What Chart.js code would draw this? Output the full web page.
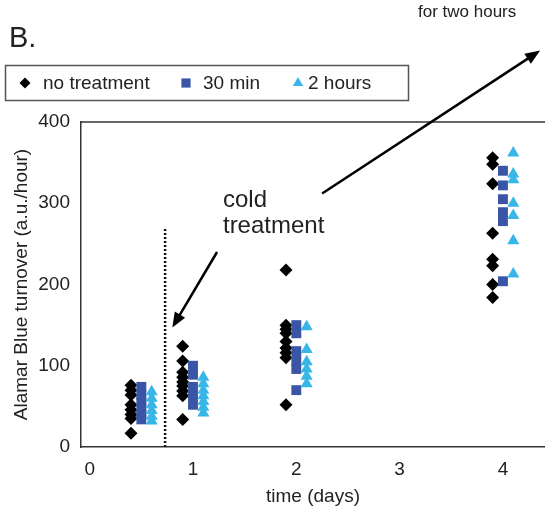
<!DOCTYPE html>
<html><head><meta charset="utf-8">
<script src="https://cdn.jsdelivr.net/npm/chart.js@4/dist/chart.umd.min.js"></script>
<style>html,body{margin:0;padding:0;background:#fff}#wrap{width:545px;height:512px;position:relative}</style>
</head><body><div id="wrap"><canvas id="c" width="545" height="512"></canvas></div>
<script>
// ---- data ----
const seriesNames = ['no treatment', '30 min', '2 hours'];
const days = [0.5, 1, 2, 4];
const noTreatment = [
  [76, 70, 64, 52, 46, 40, 35, 17],
  [124, 106, 92, 86, 80, 75, 69, 63, 34],
  [218, 150, 145, 140, 130, 122, 116, 110, 52],
  [356, 348, 324, 263, 231, 223, 200, 184]
];
const min30 = [
  [74, 64, 56, 48, 40, 34],
  [100, 89, 74, 63, 52],
  [150, 140, 118, 106, 96, 70],
  [340, 322, 305, 289, 278, 204]
];
const hours2 = [
  [68, 60, 52, 45, 38, 32],
  [86, 78, 70, 63, 56, 49, 42],
  [148, 120, 105, 96, 87, 78],
  [362, 336, 329, 300, 285, 254, 213]
];
const xTicks = [0, 1, 2, 3, 4];
const yTicks = [0, 100, 200, 300, 400];
const coldTreatmentDay = 0.73;
const coldLineTop = 270;

// ---- styling / layout ----
const FONT = "'Liberation Sans', Arial, sans-serif";
const TXT = '#222';
const colors = ['#000000', '#3A55A5', '#38B6E8'];
const styles = ['rectRot', 'rect', 'triangle'];
const radii = [6.5, 7, 7];
const offsets = [-0.1, 0, 0.1];
const groups = [noTreatment, min30, hours2];

function pts(vals, off) {
  const out = [];
  days.forEach((d, i) => vals[i].forEach(v => out.push({x: d + off, y: v})));
  return out;
}

const datasets = groups.map((g, k) => ({
  type: 'scatter',
  label: seriesNames[k],
  data: pts(g, offsets[k]),
  pointStyle: styles[k],
  pointRadius: radii[k],
  pointHoverRadius: radii[k],
  backgroundColor: colors[k],
  borderColor: colors[k],
  borderWidth: 0,
  order: 2 - k
}));
datasets.push({
  type: 'line',
  label: 'cold',
  data: [{x: coldTreatmentDay, y: 0}, {x: coldTreatmentDay, y: coldLineTop}],
  borderColor: '#111',
  borderWidth: 2.5,
  borderDash: [2, 2],
  pointRadius: 0,
  order: 5
});

function arrow(ctx, x1, y1, x2, y2) {
  const a = Math.atan2(y2 - y1, x2 - x1);
  const L = 15, W = 6;
  ctx.save();
  ctx.strokeStyle = '#000'; ctx.fillStyle = '#000'; ctx.lineWidth = 2.5;
  ctx.beginPath();
  ctx.moveTo(x1, y1);
  ctx.lineTo(x2 - Math.cos(a) * L * 0.8, y2 - Math.sin(a) * L * 0.8);
  ctx.stroke();
  ctx.beginPath();
  ctx.moveTo(x2, y2);
  ctx.lineTo(x2 - Math.cos(a) * L - Math.sin(a) * W, y2 - Math.sin(a) * L + Math.cos(a) * W);
  ctx.lineTo(x2 - Math.cos(a) * L + Math.sin(a) * W, y2 - Math.sin(a) * L - Math.cos(a) * W);
  ctx.closePath(); ctx.fill();
  ctx.restore();
}

function marker(ctx, style, x, y, r, color) {
  ctx.save(); ctx.fillStyle = color; ctx.beginPath();
  if (style === 'rectRot') {
    ctx.moveTo(x, y - r); ctx.lineTo(x + r, y); ctx.lineTo(x, y + r); ctx.lineTo(x - r, y);
  } else if (style === 'rect') {
    const s = r * Math.SQRT1_2; ctx.rect(x - s, y - s, 2 * s, 2 * s);
  } else {
    const w = r * Math.sqrt(3) / 2;
    ctx.moveTo(x, y - r); ctx.lineTo(x + w, y + r / 2); ctx.lineTo(x - w, y + r / 2);
  }
  ctx.closePath(); ctx.fill(); ctx.restore();
}

const decor = {
  id: 'decor',
  afterDraw(chart) {
    const ctx = chart.ctx, ca = chart.chartArea;
    const xs = chart.scales.x, ys = chart.scales.y;
    ctx.save();
    // top border of plot
    ctx.strokeStyle = '#333'; ctx.lineWidth = 1.5;
    ctx.beginPath(); ctx.moveTo(ca.left, ca.top); ctx.lineTo(ca.right, ca.top); ctx.stroke();
    // panel label
    ctx.fillStyle = TXT; ctx.textBaseline = 'alphabetic'; ctx.textAlign = 'left';
    ctx.font = '29px ' + FONT; ctx.fillText('B.', 9, 47);
    ctx.font = '17px ' + FONT; ctx.fillText('for two hours', 418, 17);
    // legend box
    ctx.strokeStyle = '#555'; ctx.lineWidth = 1.5;
    ctx.strokeRect(5.5, 65.5, 403, 35);
    const lx = [[25, 43], [186, 203], [298, 308]];
    ctx.font = '19px ' + FONT; ctx.textBaseline = 'middle';
    for (let k = 0; k < 3; k++) {
      marker(ctx, styles[k], lx[k][0], 83, [5.5, 6.5, 6][k], colors[k]);
      ctx.fillStyle = TXT; ctx.fillText(seriesNames[k], lx[k][1], 84);
    }
    // cold treatment annotation
    ctx.font = '24px ' + FONT; ctx.textBaseline = 'alphabetic'; ctx.fillStyle = TXT;
    const tx = xs.getPixelForValue(1.29);
    ctx.fillText('cold', tx, ys.getPixelForValue(295));
    ctx.fillText('treatment', tx, ys.getPixelForValue(264));
    arrow(ctx, xs.getPixelForValue(1.233), ys.getPixelForValue(240), xs.getPixelForValue(0.80), ys.getPixelForValue(147));
    arrow(ctx, xs.getPixelForValue(2.25), ys.getPixelForValue(312), xs.getPixelForValue(4.36), ys.getPixelForValue(488));
    ctx.restore();
  }
};

new Chart(document.getElementById('c'), {
  type: 'scatter',
  data: {datasets},
  plugins: [decor],
  options: {
    responsive: false,
    animation: false,
    events: [],
    layout: {autoPadding: false, padding: {left: 0, right: 0, top: 122, bottom: 0}},
    plugins: {legend: {display: false}, tooltip: {enabled: false}},
    scales: {
      x: {
        type: 'linear', min: -0.084, max: 4.407,
        afterBuildTicks: s => { s.ticks = xTicks.map(v => ({value: v})); },
        afterFit: s => { s.height = 65; s.paddingLeft = 0; s.paddingRight = 0; },
        grid: {display: false, drawTicks: false},
        border: {display: true, color: '#333', width: 1.5},
        ticks: {color: TXT, font: {size: 19, family: FONT}, padding: 11, maxRotation: 0, callback: v => String(v)},
        title: {display: true, text: 'time (days)', color: TXT, font: {size: 19, family: FONT}, padding: {top: 0, bottom: 4}}
      },
      y: {
        type: 'linear', min: 0, max: 400,
        afterBuildTicks: s => { s.ticks = yTicks.map(v => ({value: v})); },
        afterFit: s => { s.width = 81; s.paddingTop = 0; s.paddingBottom = 0; },
        grid: {display: false, drawTicks: false},
        border: {display: true, color: '#333', width: 1.5},
        ticks: {color: TXT, font: {size: 19, family: FONT}, padding: 11},
        title: {display: true, text: 'Alamar Blue turnover (a.u./hour)', color: TXT, font: {size: 19, family: FONT}, padding: {top: 10, bottom: 0}}
      }
    }
  }
});
</script></body></html>
